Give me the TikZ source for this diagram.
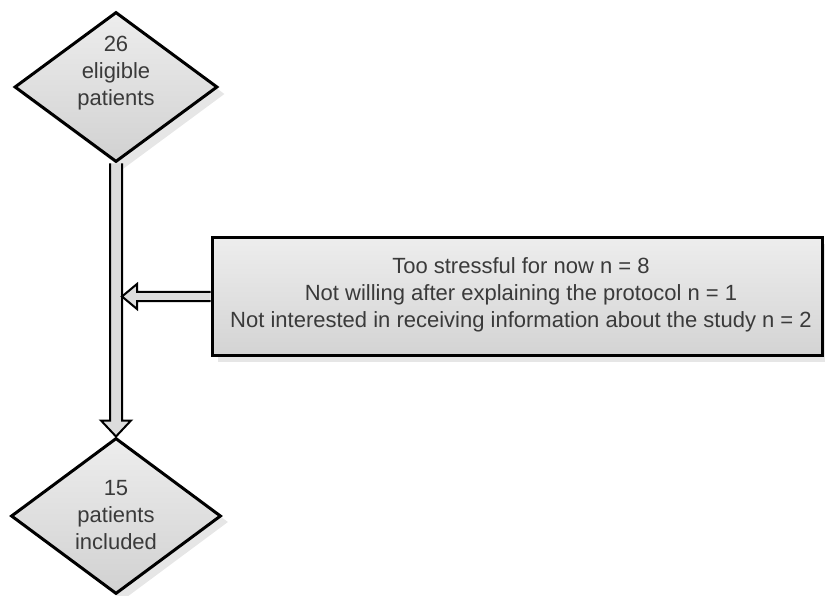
\documentclass[tikz,border=0pt]{standalone}
\usepackage{fontspec}
\setmainfont{Liberation Sans}
\usetikzlibrary{shapes.geometric,calc}
\definecolor{txt}{HTML}{3A3A3A}
\definecolor{shadowc}{HTML}{E6E6E6}
\definecolor{shaft}{HTML}{DCDCDC}
\tikzset{
  dia/.style={diamond, draw=black, line width=3pt, inner sep=0pt, top color=gray!14, bottom color=gray!36},
  shadowdia/.style={diamond, fill=shadowc, draw=none, inner sep=0pt},
  reasonbox/.style={rectangle, draw=black, line width=3pt, inner sep=0pt, top color=gray!14, bottom color=gray!34},
  lbl/.style={text=txt, align=center, font=\fontsize{22}{27}\selectfont},
  hollow/.style={draw=black, line width=2pt, fill=shaft, line join=miter}
}
\begin{document}
\begin{tikzpicture}[x=1pt,y=-1pt]
\useasboundingbox (0,0) rectangle (825,596);
% shadows
\node[shadowdia, minimum width=203pt, minimum height=150pt] at (123,94) {};
\node[shadowdia, minimum width=210pt, minimum height=156pt] at (123,522) {};
\fill[shadowc] (218,244) rectangle (825,362);
% main shapes
\node[dia, minimum width=203pt, minimum height=150pt] (top) at (116,87) {};
\node[dia, minimum width=210pt, minimum height=156pt] (bot) at (116,516) {};
\node[reasonbox, minimum width=610pt, minimum height=117pt] (box) at (517,296.5) {};
\node[lbl] (toptxt) at (116,73) {26\\eligible\\patients};
\node[lbl] (bottxt) at (116,515) {15\\patients\\included};
\node[lbl] (boxtxt) at (521,295) {Too stressful for now n = 8\\Not willing after explaining the protocol n = 1\\Not interested in receiving information about the study n = 2};
% vertical hollow arrow
\path let \p1=(top.south), \p2=(bot.north) in
  coordinate (va) at (\x1,\y1) coordinate (vb) at (\x2,\y2);
\draw[hollow] let \p1=(va), \p2=(vb) in
  (\x1-6pt,\y1) -- (\x1-6pt,\y2+16pt) -- (\x1-15pt,\y2+16pt) -- (\x2,\y2)
  -- (\x1+15pt,\y2+16pt) -- (\x1+6pt,\y2+16pt) -- (\x1+6pt,\y1);
% horizontal hollow arrow
\coordinate (hb) at ($(va)!(box.west)!(vb)+(6,0)$);
\draw[hollow] let \p1=(box.west), \p2=(hb) in
  (\x1,\y1+4.5pt) -- (\x2+15pt,\y1+4.5pt) -- (\x2+15pt,\y1+12.5pt) -- (\x2,\y1)
  -- (\x2+15pt,\y1-12.5pt) -- (\x2+15pt,\y1-4.5pt) -- (\x1,\y1-4.5pt);
\end{tikzpicture}
\end{document}
